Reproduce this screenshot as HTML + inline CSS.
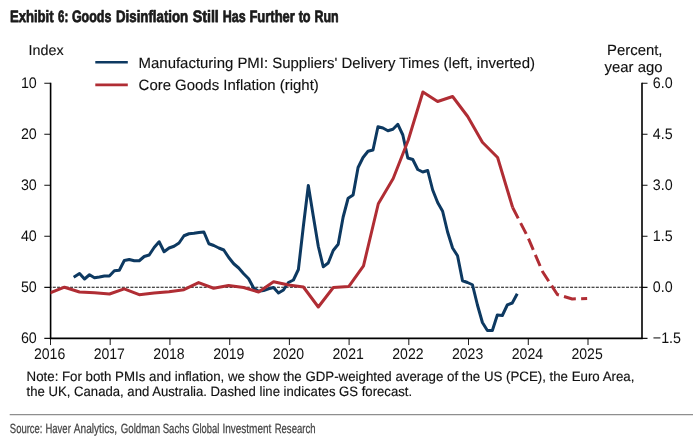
<!DOCTYPE html>
<html lang="en"><head><meta charset="utf-8"><title>Exhibit 6</title>
<style>html,body{margin:0;padding:0;background:#fff}svg{display:block}</style></head>
<body>
<svg width="700" height="441" viewBox="0 0 700 441" style="text-rendering:geometricPrecision">
<rect width="700" height="441" fill="#fff"/>
<text y="22" font-family="'Liberation Sans', Arial, sans-serif" font-weight="700" font-size="16.5" fill="#1a1a1a" stroke="#1a1a1a" stroke-width="0.75" stroke-linejoin="round"><tspan x="9.90" textLength="43.70" lengthAdjust="spacingAndGlyphs">Exhibit</tspan> <tspan x="58.00" textLength="10.20" lengthAdjust="spacingAndGlyphs">6:</tspan> <tspan x="71.90" textLength="39.45" lengthAdjust="spacingAndGlyphs">Goods</tspan> <tspan x="116.00" textLength="72.20" lengthAdjust="spacingAndGlyphs">Disinflation</tspan> <tspan x="192.65" textLength="26.20" lengthAdjust="spacingAndGlyphs">Still</tspan> <tspan x="222.65" textLength="22.95" lengthAdjust="spacingAndGlyphs">Has</tspan> <tspan x="249.40" textLength="45.45" lengthAdjust="spacingAndGlyphs">Further</tspan> <tspan x="298.65" textLength="11.95" lengthAdjust="spacingAndGlyphs">to</tspan> <tspan x="314.40" textLength="24.20" lengthAdjust="spacingAndGlyphs">Run</tspan></text>
<defs><clipPath id="c"><rect x="50.6" y="78.2" width="591.4" height="260.15000000000003"/></clipPath></defs>
<line x1="50.6" y1="287.2" x2="642.0" y2="287.2" stroke="#111" stroke-width="1.15" stroke-dasharray="3 1.31" stroke-dashoffset="2.11"/>
<g stroke="#222" stroke-width="1.05" fill="none">
<path d="M44.300000000000004,83.20 H50.6 M642.0,83.20 H647.5" stroke="#111" stroke-width="1.15"/>
<path d="M44.300000000000004,134.23 H50.6 M642.0,134.23 H647.5" stroke="#111" stroke-width="1.15"/>
<path d="M44.300000000000004,185.26 H50.6 M642.0,185.26 H647.5" stroke="#111" stroke-width="1.15"/>
<path d="M44.300000000000004,236.29 H50.6 M642.0,236.29 H647.5" stroke="#111" stroke-width="1.15"/>
<path d="M44.300000000000004,287.32 H50.6 M642.0,287.32 H647.5" stroke="#111" stroke-width="1.15"/>
<path d="M44.300000000000004,338.35 H50.6 M642.0,338.35 H647.5" stroke="#111" stroke-width="1.15"/>
<path d="M50.5,338.35 V345.05"/>
<path d="M110.2,338.35 V345.05"/>
<path d="M169.9,338.35 V345.05"/>
<path d="M229.7,338.35 V345.05"/>
<path d="M289.4,338.35 V345.05"/>
<path d="M349.1,338.35 V345.05"/>
<path d="M408.8,338.35 V345.05"/>
<path d="M468.5,338.35 V345.05"/>
<path d="M528.3,338.35 V345.05"/>
<path d="M588.0,338.35 V345.05"/>
</g>
<g stroke="#000" stroke-width="1.6" fill="none">
<path d="M50.6,82.65 V338.35 H642.8 M642.0,82.65 V338.35"/>
</g>
<g font-family="'Liberation Sans', Arial, sans-serif" font-size="14.3" fill="#111" transform="scale(1 1.07)">
<text x="36.8" y="81.96" text-anchor="end">10</text>
<text x="36.8" y="129.65" text-anchor="end">20</text>
<text x="36.8" y="177.35" text-anchor="end">30</text>
<text x="36.8" y="225.04" text-anchor="end">40</text>
<text x="36.8" y="272.73" text-anchor="end">50</text>
<text x="36.8" y="320.42" text-anchor="end">60</text>
<text x="652.8" y="81.96">6.0</text>
<text x="652.8" y="129.65">4.5</text>
<text x="652.8" y="177.35">3.0</text>
<text x="652.8" y="225.04">1.5</text>
<text x="652.8" y="272.73">0.0</text>
<text x="652.8" y="320.42">−1.5</text>
<text x="49.6" y="335.79" text-anchor="middle" textLength="31.32" lengthAdjust="spacingAndGlyphs">2016</text>
<text x="109.3" y="335.79" text-anchor="middle" textLength="31.32" lengthAdjust="spacingAndGlyphs">2017</text>
<text x="169.0" y="335.79" text-anchor="middle" textLength="31.32" lengthAdjust="spacingAndGlyphs">2018</text>
<text x="228.8" y="335.79" text-anchor="middle" textLength="31.32" lengthAdjust="spacingAndGlyphs">2019</text>
<text x="288.5" y="335.79" text-anchor="middle" textLength="31.32" lengthAdjust="spacingAndGlyphs">2020</text>
<text x="348.2" y="335.79" text-anchor="middle" textLength="31.32" lengthAdjust="spacingAndGlyphs">2021</text>
<text x="407.9" y="335.79" text-anchor="middle" textLength="31.32" lengthAdjust="spacingAndGlyphs">2022</text>
<text x="467.6" y="335.79" text-anchor="middle" textLength="31.32" lengthAdjust="spacingAndGlyphs">2023</text>
<text x="527.4" y="335.79" text-anchor="middle" textLength="31.32" lengthAdjust="spacingAndGlyphs">2024</text>
<text x="587.1" y="335.79" text-anchor="middle" textLength="31.32" lengthAdjust="spacingAndGlyphs">2025</text>
</g>
<g font-family="'Liberation Sans', Arial, sans-serif" font-size="14.3" fill="#111" stroke="#111" stroke-width="0.12">
<text x="28.6" y="54.8">Index</text>
<text x="662.5" y="54.8" text-anchor="end" font-size="14.9">Percent,</text>
<text x="662.5" y="71.8" text-anchor="end" font-size="14.9">year ago</text>
<text x="138.6" y="68" font-size="14.95">Manufacturing PMI: Suppliers' Delivery Times (left, inverted)</text>
<text x="138.6" y="90" font-size="14.95">Core Goods Inflation (right)</text>
</g>
<g font-family="'Liberation Sans', Arial, sans-serif" font-size="13.6" fill="#111" stroke="#111" stroke-width="0.15">
<text x="26.6" y="380.8" textLength="607.8" lengthAdjust="spacingAndGlyphs">Note: For both PMIs and inflation, we show the GDP-weighted average of the US (PCE), the Euro Area,</text>
<text x="26.6" y="396" textLength="385.5" lengthAdjust="spacingAndGlyphs">the UK, Canada, and Australia. Dashed line indicates GS forecast.</text>
</g>
<path d="M95.3,62.25 H127.8" stroke="#0d3961" stroke-width="2.6"/>
<path d="M95.3,84.9 H127.8" stroke="#b02d34" stroke-width="2.6"/>
<g clip-path="url(#c)" fill="none" stroke-linejoin="round">
<path d="M73.70,277.30 L79.54,273.50 L84.52,279.00 L89.49,274.75 L94.46,277.75 L99.44,277.00 L104.41,276.00 L109.39,276.00 L114.36,270.75 L119.33,270.25 L124.31,260.50 L129.28,259.50 L134.25,260.75 L139.23,260.75 L144.20,256.50 L149.18,255.00 L154.15,247.50 L159.12,241.75 L164.10,251.75 L169.07,248.00 L174.04,246.25 L179.02,243.00 L183.99,235.75 L188.97,233.75 L193.94,233.25 L198.91,232.50 L203.89,232.00 L208.86,243.75 L213.83,245.50 L218.81,248.00 L223.78,250.00 L228.75,257.50 L233.73,263.75 L238.70,268.00 L243.68,273.75 L248.65,278.75 L253.62,288.00 L258.60,291.25 L263.57,290.50 L268.54,288.75 L273.52,287.50 L278.49,293.00 L283.47,290.00 L288.44,282.50 L293.41,280.00 L298.39,269.50 L303.36,226.25 L308.33,185.50 L313.31,216.25 L318.28,246.25 L323.25,266.75 L328.23,263.00 L333.20,250.50 L338.18,244.25 L343.15,217.00 L348.12,198.25 L353.10,195.00 L358.07,167.50 L363.04,157.50 L368.02,151.25 L372.99,150.00 L377.97,126.75 L382.94,128.00 L387.91,130.70 L392.89,129.30 L397.86,124.30 L402.83,135.00 L407.81,158.00 L412.78,159.50 L417.76,169.50 L422.73,172.00 L427.70,170.50 L432.68,190.00 L437.65,202.50 L442.62,211.25 L447.60,232.00 L452.57,248.00 L457.54,255.75 L462.52,280.75 L467.49,282.50 L472.47,284.75 L477.44,305.00 L482.41,322.50 L487.39,330.50 L492.36,330.50 L497.33,315.00 L502.31,315.50 L507.28,305.00 L512.26,303.00 L517.23,293.75" stroke="#0d3961" stroke-width="3"/>
<path d="M49.60,293.00 L64.50,287.20 L79.50,292.00 L94.50,292.70 L109.50,294.00 L124.20,288.80 L139.20,294.70 L154.10,293.10 L169.00,291.70 L183.90,289.70 L198.60,282.60 L213.60,288.25 L228.60,285.50 L243.60,287.50 L258.60,292.00 L273.60,281.75 L288.60,285.00 L303.40,287.00 L318.30,307.00 L333.30,287.50 L348.70,286.60 L363.50,265.80 L378.30,203.75 L393.20,178.50 L408.30,140.00 L422.90,92.00 L437.60,101.50 L452.60,96.50 L467.70,116.50 L482.40,142.30 L497.60,157.50 L512.65,207.50" stroke="#b02d34" stroke-width="3"/>
<path d="M512.65,207.50 L527.55,236.50 L542.45,271.50 L557.35,294.50 L572.25,299.00 L587.15,298.40" stroke="#b02d34" stroke-width="3" stroke-dasharray="12.2 5.3"/>
</g>
<line x1="9.7" y1="414.6" x2="693" y2="414.6" stroke="#8e8e8e" stroke-width="1.3"/>
<text y="432.9" font-family="'Liberation Sans', Arial, sans-serif" font-size="13.3" fill="#444" stroke="#444" stroke-width="0.25"><tspan x="9.80" textLength="32.70" lengthAdjust="spacingAndGlyphs">Source:</tspan> <tspan x="45.50" textLength="25.30" lengthAdjust="spacingAndGlyphs">Haver</tspan> <tspan x="73.80" textLength="43.30" lengthAdjust="spacingAndGlyphs">Analytics,</tspan> <tspan x="120.65" textLength="39.55" lengthAdjust="spacingAndGlyphs">Goldman</tspan> <tspan x="162.70" textLength="26.70" lengthAdjust="spacingAndGlyphs">Sachs</tspan> <tspan x="192.20" textLength="27.20" lengthAdjust="spacingAndGlyphs">Global</tspan> <tspan x="222.40" textLength="49.00" lengthAdjust="spacingAndGlyphs">Investment</tspan> <tspan x="274.70" textLength="40.80" lengthAdjust="spacingAndGlyphs">Research</tspan></text>
</svg>
</body></html>
